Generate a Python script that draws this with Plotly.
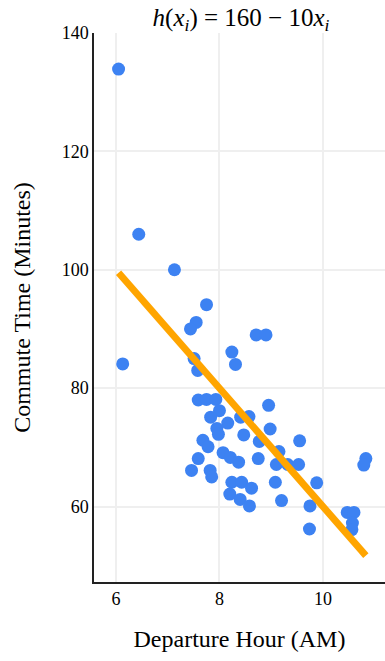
import plotly.graph_objects as go

departure_hour = [6.05, 6.44, 7.13, 6.13, 7.75, 7.55, 7.44, 7.51, 7.58, 8.24, 8.31, 8.71, 8.90,
                  7.59, 7.75, 7.93, 8.00, 7.83, 8.16, 7.95, 7.98, 8.41, 8.57, 8.95, 8.47, 8.98,
                  7.68, 7.78, 8.77, 8.07, 8.21, 8.37, 7.59, 8.75, 7.46, 7.82, 7.85, 8.24, 8.43,
                  8.62, 8.20, 8.40, 8.58, 9.15, 9.10, 9.32, 9.53, 9.55, 9.08, 9.20, 9.88, 9.75,
                  9.74, 10.47, 10.60, 10.57, 10.56, 10.83, 10.79]
commute_time = [133.9, 106.0, 100.0, 84.1, 94.1, 91.1, 90.0, 85.0, 83.0, 86.1, 84.0, 89.0, 89.0,
                78.0, 78.1, 78.1, 76.2, 75.1, 74.1, 73.2, 72.2, 75.1, 75.2, 77.1, 72.1, 73.1,
                71.2, 70.1, 71.0, 69.1, 68.3, 67.5, 68.1, 68.1, 66.1, 66.1, 65.0, 64.1, 64.1,
                63.1, 62.1, 61.2, 60.1, 69.3, 67.1, 67.1, 67.1, 71.1, 64.1, 61.0, 64.0, 60.1,
                56.2, 59.0, 59.0, 57.2, 56.1, 68.1, 67.0]

intercept = 160
slope = -10
line_x = [min(departure_hour), max(departure_hour)]
line_y = [intercept + slope * x for x in line_x]

x_ticks = [6, 8, 10]
y_ticks = [60, 80, 100, 120, 140]

serif = "Liberation Serif, DejaVu Serif, serif"

fig = go.Figure()
fig.add_trace(go.Scatter(x=departure_hour, y=commute_time, mode="markers",
                         marker=dict(size=13, color="#3d82f2"), showlegend=False,
                         cliponaxis=False))
fig.add_trace(go.Scatter(x=line_x, y=line_y, mode="lines",
                         line=dict(color="#ffa500", width=7), showlegend=False))

fig.update_layout(
    width=385, height=661,
    margin=dict(l=94, r=0, t=33, b=79),
    plot_bgcolor="white", paper_bgcolor="white",
    title=dict(text="<i>h</i>(<i>x<sub>i</sub></i>) = 160 − 10<i>x<sub>i</sub></i>",
               x=0.626, xanchor="center", y=0.987, yanchor="top",
               font=dict(family=serif, size=25, color="black")),
    font=dict(family=serif, color="black"),
)
fig.update_xaxes(range=[5.575, 11.2], tickvals=x_ticks, showgrid=True, gridcolor="#efefef",
                 gridwidth=1.5, showline=True, linecolor="#222", linewidth=1.5, zeroline=False,
                 ticks="", tickfont=dict(size=18, family=serif),
                 title=dict(text="Departure Hour (AM)", font=dict(size=24, family=serif), standoff=22))
fig.update_yaxes(range=[47.25, 140], tickvals=y_ticks, showgrid=True, gridcolor="#efefef",
                 gridwidth=1.5, showline=True, linecolor="#222", linewidth=1.5, zeroline=False,
                 ticks="", tickfont=dict(size=18, family=serif),
                 title=dict(text="Commute Time (Minutes)", font=dict(size=24, family=serif), standoff=24))

fig.write_html("out.html")
